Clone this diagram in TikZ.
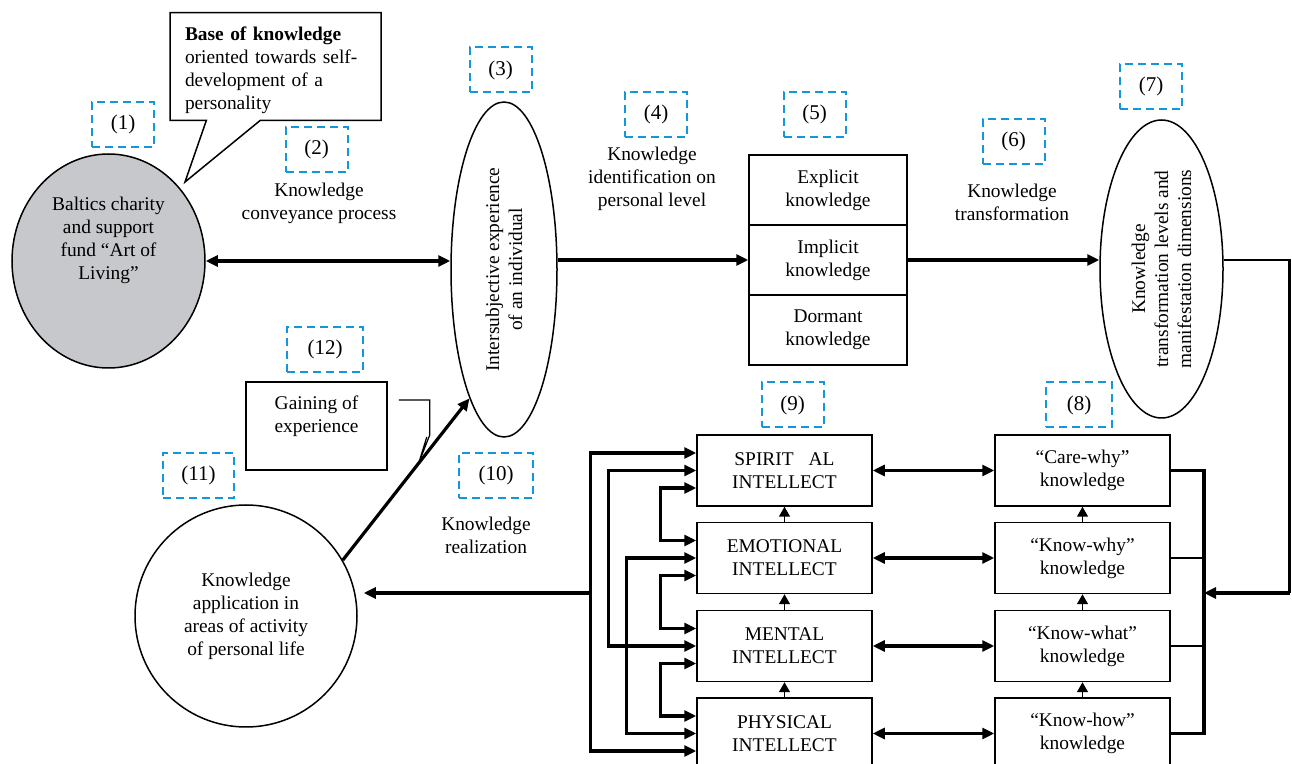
\documentclass[tikz,border=0pt]{standalone}
\usepackage{fontspec}
\setmainfont{Liberation Serif}
\usetikzlibrary{arrows.meta,shapes.geometric,shapes.callouts}
\definecolor{fundgray}{RGB}{199,200,204}
\definecolor{numblue}{RGB}{20,150,220}

\begin{document}
\begin{tikzpicture}[x=0.5pt,y=-0.5pt,
    font=\fontsize{9.7}{11.5}\selectfont,
    >={Triangle[length=6pt,width=5.5pt]},
    box/.style={draw, line width=0.75pt, minimum width=87.5pt, minimum height=35.5pt, inner sep=1pt, align=center},
    numbox/.style={draw=numblue, dash pattern=on 4pt off 2.5pt, line width=1pt, minimum width=31pt, minimum height=22.5pt, font=\fontsize{10.5}{12}\selectfont},
    link/.style={line width=1.6pt, ->},
    dlink/.style={line width=1.6pt, <->},
    uparr/.style={line width=0.75pt, -{Triangle[length=5pt,width=5.5pt]}}]

        \useasboundingbox (0,0) rectangle (1292,764);

        \node[ellipse, draw, line width=0.75pt, fill=fundgray, minimum width=96.5pt, minimum height=107pt, inner sep=0pt, align=center] (fund) at (108.5,261) {Baltics charity\\and support\\fund “Art of\\Living”\\[11.5pt]~};
        \node[rectangle callout, draw, line width=0.75pt, fill=white, callout absolute pointer={(185,182)}, callout pointer width=27pt, text width=90.5pt, inner xsep=7.5pt, minimum height=52.5pt, align=left] (base) at (275.5,66.5) {\rule{0pt}{10.5pt}\textbf{Base of knowledge}\\oriented towards self-\\development of a\\personality};

        \node[ellipse, draw, line width=0.75pt, rotate=90, minimum width=167.5pt, minimum height=53pt, inner sep=0pt, align=center] (e1) at (504,269.5) {Intersubjective experience\\of an individual};
        \node[box, minimum width=79pt, minimum height=35pt] (kex) at (828,190) {Explicit\\knowledge};
        \node[box, minimum width=79pt, minimum height=35pt] (kim) at (828,260) {Implicit\\knowledge};
        \node[box, minimum width=79pt, minimum height=35pt] (kdo) at (828,330) {Dormant\\knowledge};
        \node[ellipse, draw, line width=0.75pt, rotate=90, minimum width=149pt, minimum height=61.5pt, inner sep=0pt, align=center] (e2) at (1161.5,269) {Knowledge\\transformation levels and\\manifestation dimensions};

        \node[box] (isp) at (784.5,470.5) {SPIRIT\hspace{7.5pt}AL\\INTELLECT};
        \node[box] (iem) at (784.5,558) {EMOTIONAL\\INTELLECT};
        \node[box] (ime) at (784.5,646) {MENTAL\\INTELLECT};
        \node[box] (iph) at (784.5,733.5) {PHYSICAL\\INTELLECT};
        \node[box] (kcw) at (1082.5,470.5) {“Care-why”\\knowledge};
        \node[box] (kwy) at (1082.5,558) {“Know-why”\\knowledge};
        \node[box] (kwt) at (1082.5,646) {“Know-what”\\knowledge};
        \node[box] (kwh) at (1082.5,733.5) {“Know-how”\\knowledge};

        \node[circle, draw, line width=0.75pt, minimum size=111pt, inner sep=0pt, align=center] (app) at (246,616) {Knowledge\\application in\\areas of activity\\of personal life};
        \node[draw, line width=0.75pt, minimum width=70.5pt, minimum height=44pt, align=center] (gain) at (316.5,426) {Gaining of\\experience\\~};

        \node[align=center] (t2) at (319,203) {Knowledge\\conveyance process};
        \node[align=center] (t4) at (652,179) {Knowledge\\identification on\\personal level};
        \node[align=center] (t6) at (1012,202) {Knowledge\\transformation};
        \node[align=center] (t10) at (486,535.5) {Knowledge\\realization};

        \node[numbox] (n1) at (123,124.5) {(1)};
        \node[numbox] (n2) at (316.5,149.5) {(2)};
        \node[numbox] (n3) at (500.5,70) {(3)};
        \node[numbox] (n4) at (656,114.5) {(4)};
        \node[numbox] (n5) at (814.5,114.5) {(5)};
        \node[numbox] (n6) at (1013.5,141.5) {(6)};
        \node[numbox] (n7) at (1151,86.5) {(7)};
        \node[numbox, minimum width=33pt] (n8) at (1079,405) {(8)};
        \node[numbox] (n9) at (792.5,405) {(9)};
        \node[numbox, minimum width=37pt] (n10) at (496,475.5) {(10)};
        \node[numbox, minimum width=35.5pt] (n11) at (198.5,475.5) {(11)};
        \node[numbox, minimum width=38pt] (n12) at (325,349.5) {(12)};

        \draw[dlink] (fund.east) -- (fund.east -| e1.north);
        \draw[link] (e1.south |- kim.west) -- (kim.west);
        \draw[link] (kim.east) -- (kim.east -| e2.north);

        \coordinate (rt) at (1289.5,260);
        \coordinate (rb) at (1289.5,593);
        \coordinate (kbus) at (1204,593);
        \draw[line width=1.3pt] (e2.south |- rt) -- (rt) -- (rb);
        \draw[link] (rb) -- (kbus);
        \draw[line width=1.6pt] (kcw.east) -- (kcw.east -| kbus) -- (kwh.east -| kbus) -- (kwh.east);
        \draw[line width=1.2pt] (kwy.east) -- (kwy.east -| kbus);
        \draw[line width=1.2pt] (kwt.east) -- (kwt.east -| kbus);

        \draw[uparr] (iem.north) -- (isp.south);
        \draw[uparr] (ime.north) -- (iem.south);
        \draw[uparr] (iph.north) -- (ime.south);
        \draw[uparr] (kwy.north) -- (kcw.south);
        \draw[uparr] (kwt.north) -- (kwy.south);
        \draw[uparr] (kwh.north) -- (kwt.south);

        \foreach \a/\b in {isp/kcw, iem/kwy, ime/kwt, iph/kwh}
            \draw[dlink] (\a.east) -- (\b.west);

        \coordinate (lbus) at (591,593);
        \draw[dlink] ([yshift=8.75pt]isp.west) -- ++(-106,0) |- ([yshift=-8.75pt]iph.west);
        \draw[dlink] (isp.west) -- ++(-88,0) |- (ime.west);
        \draw[dlink] (iem.west) -- ++(-70,0) |- (iph.west);
        \draw[dlink] ([yshift=-8.75pt]isp.west) -- ++(-36,0) |- ([yshift=8.75pt]iem.west);
        \draw[dlink] ([yshift=-8.75pt]iem.west) -- ++(-36,0) |- ([yshift=8.75pt]ime.west);
        \draw[dlink] ([yshift=-8.75pt]ime.west) -- ++(-36,0) |- ([yshift=8.75pt]iph.west);
        \draw[link, shorten >=3pt] (lbus) -- (lbus -| app.east);

        \draw[link] (app.30) -- (e1.165);
        \draw[line width=0.6pt] ([shift={(5.5pt,13pt)}]gain.east) -- ++(31,0) -- ++(0,35) -- ++(-11,28) -- ++(8,-26);

    \end{tikzpicture}
\end{document}
